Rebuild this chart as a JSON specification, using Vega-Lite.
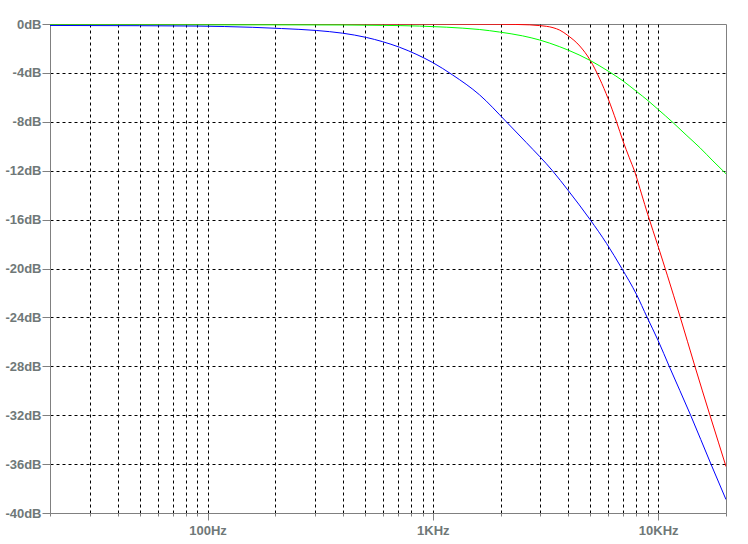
{
  "$schema": "https://vega.github.io/schema/vega-lite/v6.json",
  "width": 676,
  "height": 489,
  "autosize": {"type": "none"},
  "padding": {"left": 50, "top": 24, "right": 22, "bottom": 31},
  "background": "white",
  "config": {
    "view": {"stroke": "#808080", "strokeWidth": 1},
    "axis": {
      "labelFont": "Liberation Sans",
      "labelFontWeight": "bold",
      "labelFontSize": 13,
      "labelColor": "#6f7878",
      "domainColor": "#808080",
      "tickColor": "#808080",
      "gridColor": "#000000",
      "gridDash": [3, 3],
      "gridWidth": 1,
      "labelOverlap": false,
      "labelFlush": false,
      "title": null
    }
  },
  "data": {
    "values": [
      {"series": "red", "freq": 20, "db": 0},
      {"series": "red", "freq": 500, "db": 0},
      {"series": "red", "freq": 1000, "db": 0},
      {"series": "red", "freq": 2000, "db": -0.02},
      {"series": "red", "freq": 2690, "db": -0.07},
      {"series": "red", "freq": 2980, "db": -0.13},
      {"series": "red", "freq": 3415, "db": -0.3},
      {"series": "red", "freq": 3657, "db": -0.5},
      {"series": "red", "freq": 3981, "db": -0.95},
      {"series": "red", "freq": 4488, "db": -1.8},
      {"series": "red", "freq": 4988, "db": -2.95},
      {"series": "red", "freq": 5508, "db": -4.5},
      {"series": "red", "freq": 5995, "db": -6.1},
      {"series": "red", "freq": 6534, "db": -8.0},
      {"series": "red", "freq": 6989, "db": -9.6},
      {"series": "red", "freq": 7431, "db": -10.9},
      {"series": "red", "freq": 7877, "db": -12.1},
      {"series": "red", "freq": 8437, "db": -13.9},
      {"series": "red", "freq": 9000, "db": -15.6},
      {"series": "red", "freq": 10000, "db": -18.2},
      {"series": "red", "freq": 11000, "db": -20.6},
      {"series": "red", "freq": 12490, "db": -23.9},
      {"series": "red", "freq": 14557, "db": -28.0},
      {"series": "red", "freq": 16970, "db": -32.0},
      {"series": "red", "freq": 18500, "db": -34.2},
      {"series": "red", "freq": 20000, "db": -36.2},
      {"series": "green", "freq": 20, "db": -0.07},
      {"series": "green", "freq": 200, "db": -0.07},
      {"series": "green", "freq": 400, "db": -0.08},
      {"series": "green", "freq": 597, "db": -0.11},
      {"series": "green", "freq": 873, "db": -0.17},
      {"series": "green", "freq": 1147, "db": -0.26},
      {"series": "green", "freq": 1359, "db": -0.34},
      {"series": "green", "freq": 1613, "db": -0.45},
      {"series": "green", "freq": 1979, "db": -0.66},
      {"series": "green", "freq": 2500, "db": -0.97},
      {"series": "green", "freq": 2980, "db": -1.31},
      {"series": "green", "freq": 3657, "db": -1.86},
      {"series": "green", "freq": 3981, "db": -2.13},
      {"series": "green", "freq": 4988, "db": -2.98},
      {"series": "green", "freq": 5995, "db": -3.85},
      {"series": "green", "freq": 6989, "db": -4.66},
      {"series": "green", "freq": 8017, "db": -5.52},
      {"series": "green", "freq": 9030, "db": -6.28},
      {"series": "green", "freq": 10000, "db": -6.99},
      {"series": "green", "freq": 11659, "db": -8.08},
      {"series": "green", "freq": 13300, "db": -9.07},
      {"series": "green", "freq": 15325, "db": -10.12},
      {"series": "green", "freq": 17500, "db": -11.2},
      {"series": "green", "freq": 20000, "db": -12.25},
      {"series": "blue", "freq": 20, "db": -0.12},
      {"series": "blue", "freq": 50, "db": -0.14},
      {"series": "blue", "freq": 90, "db": -0.17},
      {"series": "blue", "freq": 158, "db": -0.27},
      {"series": "blue", "freq": 213, "db": -0.37},
      {"series": "blue", "freq": 304, "db": -0.53},
      {"series": "blue", "freq": 397, "db": -0.75},
      {"series": "blue", "freq": 507, "db": -1.1},
      {"series": "blue", "freq": 597, "db": -1.44},
      {"series": "blue", "freq": 711, "db": -1.9},
      {"series": "blue", "freq": 850, "db": -2.5},
      {"series": "blue", "freq": 1000, "db": -3.16},
      {"series": "blue", "freq": 1224, "db": -4.17},
      {"series": "blue", "freq": 1613, "db": -5.8},
      {"series": "blue", "freq": 2120, "db": -8.0},
      {"series": "blue", "freq": 2600, "db": -9.7},
      {"series": "blue", "freq": 3395, "db": -12.0},
      {"series": "blue", "freq": 4000, "db": -13.65},
      {"series": "blue", "freq": 4988, "db": -16.0},
      {"series": "blue", "freq": 5900, "db": -17.95},
      {"series": "blue", "freq": 6897, "db": -20.0},
      {"series": "blue", "freq": 8000, "db": -22.1},
      {"series": "blue", "freq": 8935, "db": -24.0},
      {"series": "blue", "freq": 10000, "db": -25.9},
      {"series": "blue", "freq": 11193, "db": -28.0},
      {"series": "blue", "freq": 13932, "db": -32.0},
      {"series": "blue", "freq": 17150, "db": -36.0},
      {"series": "blue", "freq": 20000, "db": -38.9}
    ]
  },
  "mark": {"type": "line", "strokeWidth": 1, "interpolate": "monotone", "clip": true},
  "encoding": {
    "x": {
      "field": "freq",
      "type": "quantitative",
      "scale": {"type": "log", "domain": [20, 20000], "nice": false},
      "axis": {
        "values": [20, 30, 40, 50, 60, 70, 80, 90, 100, 200, 300, 400, 500, 600, 700, 800, 900, 1000, 2000, 3000, 4000, 5000, 6000, 7000, 8000, 9000, 10000, 20000],
        "labelExpr": "datum.value == 100 ? '100Hz' : datum.value == 1000 ? '1KHz' : datum.value == 10000 ? '10KHz' : ''",
        "tickSize": {"condition": {"test": "datum.value == 100 || datum.value == 1000 || datum.value == 10000", "value": 7}, "value": 3},
        "gridOpacity": {"condition": {"test": "datum.value == 20 || datum.value == 20000", "value": 0}, "value": 1},
        "labelPadding": 4
      }
    },
    "y": {
      "field": "db",
      "type": "quantitative",
      "scale": {"domain": [-40, 0], "nice": false},
      "axis": {
        "values": [0, -4, -8, -12, -16, -20, -24, -28, -32, -36, -40],
        "labelExpr": "datum.value + 'dB'",
        "tickSize": 8,
        "labelPadding": 1,
        "gridOpacity": {"condition": {"test": "datum.value == 0 || datum.value == -40", "value": 0}, "value": 1}
      }
    },
    "color": {
      "field": "series",
      "type": "nominal",
      "scale": {"domain": ["red", "green", "blue"], "range": ["#ff0000", "#00ff00", "#0000ff"]},
      "legend": null
    }
  }
}
